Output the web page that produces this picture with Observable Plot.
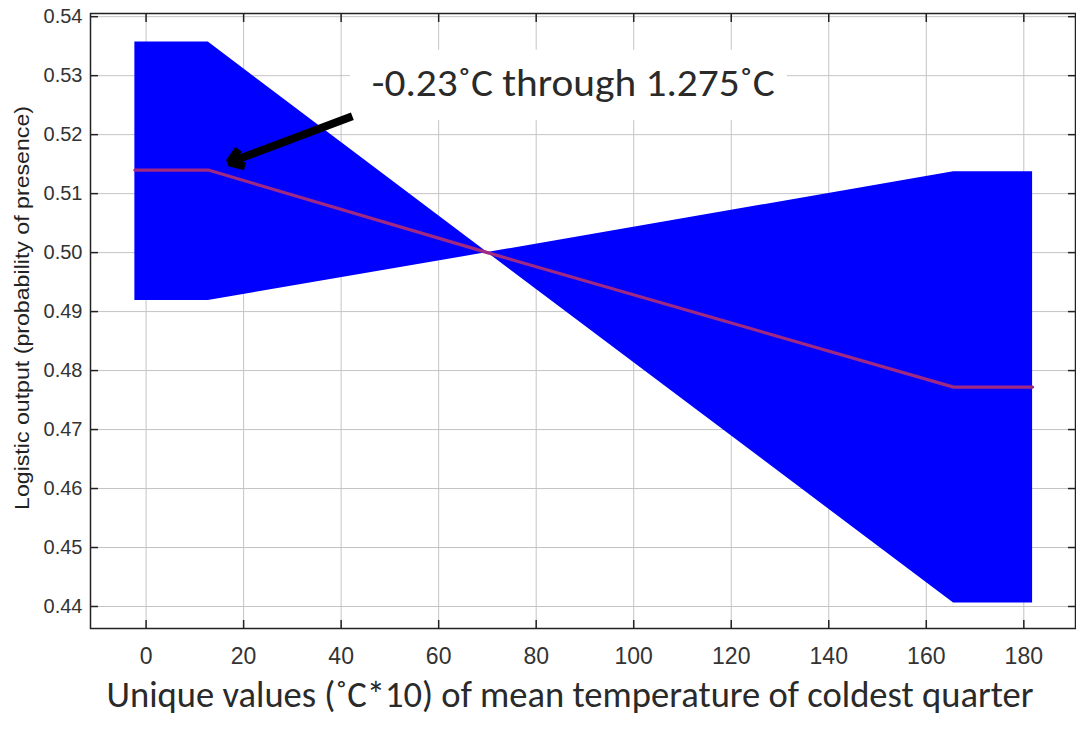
<!DOCTYPE html>
<html>
<head>
<meta charset="utf-8">
<script src="https://cdn.jsdelivr.net/npm/d3@7"></script>
<script src="https://cdn.jsdelivr.net/npm/@observablehq/plot@0.6"></script>
<style>
  html, body { margin: 0; padding: 0; background: #fff; }
</style>
</head>
<body>
<div id="chart"></div>
<script>
// Temperature values (°C*10) at the corners of the response curve
const temps = [-2.3, 12.75, 70, 165.6, 181.8];
// Band edges (mean ± sd) and the mean logistic output
const edgeA = [0.5357, 0.5357, 0.5000, 0.4406, 0.4406];
const edgeB = [0.4919, 0.4919, 0.5000, 0.5137, 0.5137];
const meanVals = [0.514, 0.514, 0.500, 0.4772, 0.4772];

const xTicks = [0, 20, 40, 60, 80, 100, 120, 140, 160, 180];
const yTicks = [0.44, 0.45, 0.46, 0.47, 0.48, 0.49, 0.50, 0.51, 0.52, 0.53, 0.54];

const xTitle = "Unique values (˚C*10) of mean temperature of coldest quarter";
const yTitle = "Logistic output (probability of presence)";

// Annotation
const noteText = "-0.23˚C through 1.275˚C";
const noteX = [46.3];
const noteY = [0.5286];
const noteBoxX = [41.9, 131.5];
const noteBoxY = [0.5224, 0.5343];
const arrowFrom = [42.3, 0.5231];
const arrowTo = [17.1, 0.5153];

const rows = temps.map((t, i) => ({t, a: edgeA[i], b: edgeB[i], m: meanVals[i]}));

const W = 1076, H = 730;
const chart = Plot.plot({
  width: W,
  height: H,
  marginLeft: 90,
  marginRight: 1,
  marginTop: 13,
  marginBottom: 102,
  style: {background: "#fff", color: "#333", fontFamily: "'Liberation Sans', Arial, sans-serif"},
  x: {domain: [-11.4, 190.6], label: null},
  y: {domain: [0.43627, 0.54054], label: null},
  marks: [
    Plot.gridX(xTicks, {stroke: "#c4c4c4", strokeOpacity: 1, strokeWidth: 1}),
    Plot.gridY(yTicks, {stroke: "#c4c4c4", strokeOpacity: 1, strokeWidth: 1}),
    Plot.rect([0], {x1: noteBoxX[0], x2: noteBoxX[1], y1: noteBoxY[0], y2: noteBoxY[1], fill: "#fff"}),
    Plot.areaY(rows, {x: "t", y1: "a", y2: "b", fill: "#0000ff", fillOpacity: 1, curve: "linear"}),
    Plot.line(rows, {x: "t", y: "m", stroke: "#a02a82", strokeWidth: 3.2}),
    // ticks inside frame
    Plot.axisX(xTicks, {anchor: "bottom", tickSize: -8, tickFormat: () => "", label: null, stroke: "#222", strokeWidth: 1.5}),
    Plot.axisX(xTicks, {anchor: "top", tickSize: -8, tickFormat: () => "", label: null, stroke: "#222", strokeWidth: 1.5}),
    Plot.axisY(yTicks, {anchor: "left", tickSize: -8, tickFormat: () => "", label: null, stroke: "#222", strokeWidth: 1.5}),
    Plot.axisY(yTicks, {anchor: "right", tickSize: -8, tickFormat: () => "", label: null, stroke: "#222", strokeWidth: 1.5}),
    // tick labels
    Plot.axisX(xTicks, {anchor: "bottom", tickSize: 0, tickPadding: 19, label: null, fontSize: 23, fill: "#333", tickFormat: d => String(d)}),
    Plot.axisY(yTicks, {anchor: "left", tickSize: 0, tickPadding: 8, label: null, fontSize: 20, fill: "#333", tickFormat: d3.format(".2f")}),
    Plot.frame({stroke: "#222", strokeWidth: 1.5}),
    Plot.text([xTitle], {frameAnchor: "bottom", dy: 67, dx: -13, lineAnchor: "middle", textAnchor: "middle",
      fontSize: 36, fontFamily: "Carlito, Lato, sans-serif", fill: "#2a2a2a"}),
    Plot.text([yTitle], {frameAnchor: "left", dx: -68, dy: -13, rotate: -90, lineAnchor: "middle", textAnchor: "middle",
      fontSize: 21, fill: "#222"}),
    Plot.arrow([0], {x1: arrowFrom[0], y1: arrowFrom[1], x2: arrowTo[0], y2: arrowTo[1],
      stroke: "#000", strokeWidth: 8, headLength: 3, headAngle: 70, strokeLinecap: "butt"}),
    Plot.text([noteText], {x: noteX, y: noteY, textAnchor: "start", lineAnchor: "middle",
      fontSize: 38, fontFamily: "Carlito, Lato, sans-serif", fill: "#2a2a2a"})
  ]
});
document.getElementById("chart").appendChild(chart);

// Fit the long texts to the widths seen in the reference
const fit = (str, len) => d3.select(chart).selectAll("text")
  .filter(function() { return this.textContent === str; })
  .attr("textLength", len).attr("lengthAdjust", "spacingAndGlyphs");
fit(xTitle, 927);
fit(yTitle, 404);
fit(noteText, 403);
</script>
</body>
</html>
